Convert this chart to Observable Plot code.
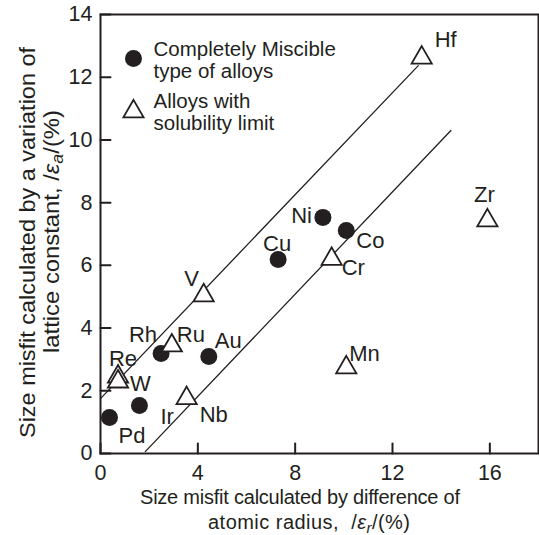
<!DOCTYPE html>
<html>
<head>
<meta charset="utf-8">
<script src="https://cdn.jsdelivr.net/npm/d3@7"></script>
<script src="https://cdn.jsdelivr.net/npm/@observablehq/plot@0.6"></script>
<style>
  html, body { margin: 0; padding: 0; background: #fff; }
  #chart svg { display: block; }
</style>
</head>
<body>
<div id="chart"></div>
<script>
// ---- data ----
const miscibleNames = ["Pd", "Ir", "Rh", "Au", "Cu", "Ni", "Co"];
const miscibleX = [0.37, 1.6, 2.49, 4.45, 7.3, 9.14, 10.1];
const miscibleY = [1.15, 1.53, 3.19, 3.09, 6.19, 7.53, 7.11];

const limitNames = ["Re", "W", "Ru", "Nb", "V", "Cr", "Mn", "Hf", "Zr"];
const limitX = [0.72, 0.72, 2.93, 3.54, 4.24, 9.5, 10.1, 13.2, 15.9];
const limitY = [2.45, 2.29, 3.44, 1.76, 5.04, 6.2, 2.74, 12.62, 7.43];

const upperLineX = [0, 13.06];
const upperLineY = [1.75, 12.37];
const lowerLineX = [1.84, 14.4];
const lowerLineY = [0.06, 10.3];

const xTicks = [0, 4, 8, 12, 16];
const yTicks = [0, 2, 4, 6, 8, 10, 12, 14];

const legendLabels = ["Completely Miscible\ntype of alloys", "Alloys with\nsolubility limit"];

// ---- label placement (style, not data) ----
const labelOffset = {
  Pd: {dx: 9, dy: 19, anchor: "start"},
  Ir: {dx: 21, dy: 11, anchor: "start"},
  Rh: {dx: -4, dy: -19, anchor: "end"},
  Au: {dx: 6, dy: -16, anchor: "start"},
  Cu: {dx: -1, dy: -15, anchor: "middle"},
  Ni: {dx: -11, dy: -1, anchor: "end"},
  Co: {dx: 10, dy: 10, anchor: "start"},
  Re: {dx: 5, dy: -18, anchor: "middle"},
  W: {dx: 12, dy: 2, anchor: "start"},
  Ru: {dx: 5, dy: -11, anchor: "start"},
  Nb: {dx: 13, dy: 17, anchor: "start"},
  V: {dx: -12, dy: -17, anchor: "middle"},
  Cr: {dx: 10, dy: 9, anchor: "start"},
  Mn: {dx: 3, dy: -14, anchor: "start"},
  Hf: {dx: 13, dy: -18, anchor: "start"},
  Zr: {dx: -3, dy: -26, anchor: "middle"}
};

const ink = "#231f20";
const font = "'Liberation Sans', Arial, Helvetica, sans-serif";

const miscible = miscibleNames.map((n, i) => ({name: n, x: miscibleX[i], y: miscibleY[i]}));
const limited = limitNames.map((n, i) => ({name: n, x: limitX[i], y: limitY[i]}));
const upperLine = upperLineX.map((x, i) => ({x, y: upperLineY[i]}));
const lowerLine = lowerLineX.map((x, i) => ({x, y: lowerLineY[i]}));
const allPoints = [...miscible, ...limited];

const tickShape = {draw(context, l) { context.moveTo(0, 0); context.lineTo(0, -l); }};

const labelMarks = allPoints.map(p => {
  const o = labelOffset[p.name];
  return Plot.text([p], {x: "x", y: "y", text: "name", dx: o.dx, dy: o.dy,
    textAnchor: o.anchor, fontSize: 22, fill: ink});
});

const chart = Plot.plot({
  width: 539,
  height: 535,
  marginLeft: 100,
  marginRight: 1,
  marginTop: 14,
  marginBottom: 82,
  style: {fontFamily: font, background: "#fff", color: ink},
  x: {domain: [0, 18]},
  y: {domain: [0, 14]},
  marks: [
    Plot.axisX({ticks: xTicks, tickSize: 0, tickPadding: 11, fontSize: 21.5, label: null, fill: ink}),
    Plot.axisY({ticks: yTicks, tickSize: 0, tickPadding: 8, fontSize: 21.5, label: null, fill: ink}),
    Plot.vector(xTicks, {x: d => d, y: 0, length: 10, rotate: 0, anchor: "start", shape: tickShape, stroke: ink, strokeWidth: 2}),
    Plot.vector(yTicks, {x: 0, y: d => d, length: 10, rotate: 90, anchor: "start", shape: tickShape, stroke: ink, strokeWidth: 2}),
    Plot.line(upperLine, {x: "x", y: "y", stroke: ink, strokeWidth: 1.3}),
    Plot.line(lowerLine, {x: "x", y: "y", stroke: ink, strokeWidth: 1.3}),
    Plot.dot(miscible, {x: "x", y: "y", r: 8.5, fill: ink, stroke: "none"}),
    Plot.dot(limited, {x: "x", y: "y", r: 7.5, symbol: "triangle", fill: "#fff", stroke: ink, strokeWidth: 1.8}),
    ...labelMarks,
    // legend
    Plot.dot([0], {frameAnchor: "top-left", dx: 33, dy: 44, r: 8.5, fill: ink, stroke: "none"}),
    Plot.dot([0], {frameAnchor: "top-left", dx: 33, dy: 97, r: 7.5, symbol: "triangle", fill: "#fff", stroke: ink, strokeWidth: 1.8}),
    Plot.text([legendLabels[0]], {frameAnchor: "top-left", dx: 53, dy: 26, text: d => d, textAnchor: "start", lineAnchor: "top", lineHeight: 1.07, fontSize: 20.5, fill: ink}),
    Plot.text([legendLabels[1]], {frameAnchor: "top-left", dx: 53, dy: 78, text: d => d, textAnchor: "start", lineAnchor: "top", lineHeight: 1.07, fontSize: 20.5, fill: ink}),
    Plot.frame({stroke: ink, strokeWidth: 2})
  ]
});

// axis titles with italic epsilon and subscripts
const svg = d3.select(chart);
function title(g, parts) {
  parts.forEach(p => {
    const t = g.append("tspan").text(p.t);
    if (p.italic) t.attr("font-style", "italic");
    if (p.sub) t.attr("baseline-shift", "-25%").attr("font-size", "0.75em");
  });
}
function addTitle(transform, size, len, adjust, parts) {
  const t = svg.append("text").attr("transform", transform).attr("text-anchor", "middle")
    .attr("font-size", size).attr("fill", ink).attr("font-family", font)
    .attr("xml:space", "preserve")
    .attr("textLength", len).attr("lengthAdjust", adjust);
  title(t, parts);
}
addTitle("translate(300,504)", 20, 320, "spacing", [{t: "Size misfit calculated by difference of"}]);
addTitle("translate(309,529)", 20, 202, "spacing", [{t: "atomic radius,  /"}, {t: "ε", italic: true}, {t: "r", italic: true, sub: true}, {t: "/(%)"}]);
addTitle("translate(35,242.5) rotate(-90)", 21.5, 391, "spacingAndGlyphs", [{t: "Size misfit calculated by a variation of"}]);
addTitle("translate(59,231.5) rotate(-90)", 21.5, 243, "spacingAndGlyphs", [{t: "lattice constant, /"}, {t: "ε", italic: true}, {t: "a", italic: true, sub: true}, {t: "/(%)"}]);

document.getElementById("chart").appendChild(chart);
</script>
</body>
</html>
